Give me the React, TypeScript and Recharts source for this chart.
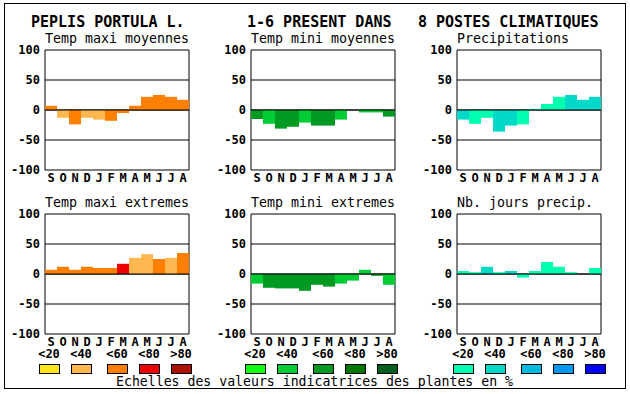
import { BarChart, Bar, XAxis, YAxis, CartesianGrid, ReferenceLine, Cell } from "recharts";

const MONTHS = ["S", "O", "N", "D", "J", "F", "M", "A", "M", "J", "J", "A"];
const Y_TICKS = [100, 50, 0, -50, -100];
const CLASS_LABELS = ["<20", "<40", "<60", "<80", ">80"];

const ORANGES = ["#FFE619", "#FFB84F", "#FF8000", "#EE0000", "#AA1100"];
const GREENS = ["#11FF11", "#00CC33", "#009922", "#007700", "#005F1F"];
const BLUES = ["#00FFB0", "#00D8C8", "#00BBDD", "#0099EE", "#0000FF"];

// values in %, cls = index of the colour class (<20 ... >80)
const maxiMoy = [7, -13, -24, -13, -16, -18, -5, 7, 22, 25, 22, 17];
const maxiMoyCls = [2, 1, 2, 1, 1, 2, 2, 2, 2, 2, 2, 2];
const miniMoy = [-15, -23, -31, -28, -21, -26, -26, -16, 0, -4, -4, -11];
const miniMoyCls = [2, 1, 2, 2, 1, 2, 2, 1, 1, 1, 1, 2];
const precip = [-16, -23, -13, -36, -26, -24, 2, 10, 22, 25, 17, 22];
const precipCls = [1, 0, 0, 1, 1, 0, 0, 0, 0, 1, 1, 1];
const maxiExt = [7, 12, 7, 12, 10, 10, 17, 27, 33, 25, 27, 35];
const maxiExtCls = [2, 2, 2, 2, 2, 2, 3, 1, 1, 2, 1, 2];
const miniExt = [-16, -23, -24, -24, -28, -18, -21, -16, -11, 7, -3, -18];
const miniExtCls = [1, 2, 2, 2, 2, 2, 2, 1, 1, 1, 2, 1];
const joursPrecip = [5, 3, 12, 3, 5, -6, 5, 20, 12, 3, 0, 10];
const joursPrecipCls = [0, 0, 1, 0, 1, 0, 0, 0, 0, 0, 0, 0];

const MONO = "'DejaVu Sans Mono', monospace";

type PanelProps = {
  left: number;
  top: number;
  title: string;
  values: number[];
  cls: number[];
  palette: string[];
};

function Panel({ left, top, title, values, cls, palette }: PanelProps) {
  const data = MONTHS.map((m, i) => ({ m, v: values[i] }));
  return (
    <div style={{ position: "absolute", left: left - 45, top: top - 24 }}>
      <BarChart
        width={45 + 144 + 4}
        height={24 + 120 + 22}
        data={data}
        margin={{ top: 24, right: 4, left: 0, bottom: 0 }}
        barCategoryGap={0}
      >
        <text x={45} y={17} fontFamily={MONO} fontSize={13.3} fill="#000">{title}</text>
        <CartesianGrid
          stroke="#000"
          verticalCoordinatesGenerator={({ offset }: any) => [offset.left, offset.left + offset.width]}
        />
        <XAxis
          dataKey="m"
          height={22}
          interval={0}
          tickLine={false}
          axisLine={false}
          tickSize={1}
          tick={{ fontFamily: MONO, fontSize: 12, fontWeight: "bold", fill: "#000" }}
        />
        <YAxis
          domain={[-100, 100]}
          ticks={Y_TICKS}
          interval={0}
          width={45}
          tickLine={false}
          axisLine={false}
          tickSize={3}
          tick={{ fontFamily: MONO, fontSize: 12, fontWeight: "bold", fill: "#000" }}
        />
        <Bar dataKey="v" isAnimationActive={false}>
          {data.map((d, i) => (
            <Cell key={`c-${i}`} fill={palette[cls[i]]} />
          ))}
        </Bar>
        <ReferenceLine y={0} stroke="#000" />
      </BarChart>
    </div>
  );
}

function ClassLegend({ x, palette }: { x: number; palette: string[] }) {
  const offs = [0, 32, 68, 100, 132];
  return (
    <g>
      {palette.map((c, i) => (
        <g key={c}>
          <text x={x + offs[i] + 10} y={358} textAnchor="middle" fontFamily={MONO} fontSize={12} fontWeight="bold">
            {CLASS_LABELS[i]}
          </text>
          <rect x={x + offs[i] + 0.5} y={364.5} width={20} height={9} fill={c} stroke="#000" />
        </g>
      ))}
    </g>
  );
}

export default function App() {
  return (
    <div style={{ position: "absolute", left: 0, top: 0, width: 630, height: 394, background: "#fff" }}>
      <svg width={630} height={394} style={{ position: "absolute", left: 0, top: 0 }}>
        <rect x={4.5} y={3.5} width={621} height={385} fill="none" stroke="#000" />
        <g fontFamily={MONO} fontSize={15} fontWeight="bold" fill="#000">
          <text x={31} y={27}>PEPLIS PORTULA L.</text>
          <text x={247} y={27}>1-6 PRESENT DANS</text>
          <text x={418} y={27}>8 POSTES CLIMATIQUES</text>
        </g>
        <ClassLegend x={39} palette={ORANGES} />
        <ClassLegend x={245} palette={GREENS} />
        <ClassLegend x={453} palette={BLUES} />
        <text x={116} y={386} fontFamily={MONO} fontSize={13.2} fill="#000">
          Echelles des valeurs indicatrices des plantes en %
        </text>
      </svg>
      <Panel left={45} top={50} title="Temp maxi moyennes" values={maxiMoy} cls={maxiMoyCls} palette={ORANGES} />
      <Panel left={251} top={50} title="Temp mini moyennes" values={miniMoy} cls={miniMoyCls} palette={GREENS} />
      <Panel left={457} top={50} title="Precipitations" values={precip} cls={precipCls} palette={BLUES} />
      <Panel left={45} top={214} title="Temp maxi extremes" values={maxiExt} cls={maxiExtCls} palette={ORANGES} />
      <Panel left={251} top={214} title="Temp mini extremes" values={miniExt} cls={miniExtCls} palette={GREENS} />
      <Panel left={457} top={214} title="Nb. jours precip." values={joursPrecip} cls={joursPrecipCls} palette={BLUES} />
    </div>
  );
}
